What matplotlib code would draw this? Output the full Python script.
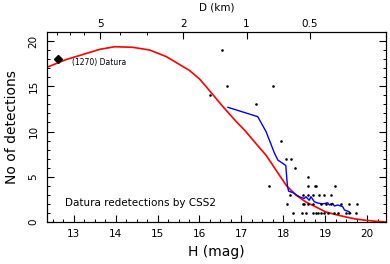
import numpy as np
import matplotlib
matplotlib.use("Agg")
import matplotlib.pyplot as plt

# model curve (red)
model_H = [12.36, 12.39, 12.83, 13.31, 13.62, 13.98, 14.41, 14.81, 15.21, 15.61, 15.76, 16.0,
           16.16, 16.56, 16.88, 17.11, 17.35, 17.59, 17.83, 18.07, 18.31, 18.54, 18.78,
           19.02, 19.26, 19.5, 19.73, 19.97, 20.21, 20.45]
model_N = [17.1, 17.16, 17.97, 18.64, 19.08, 19.37, 19.3, 19.0, 18.27, 17.16, 16.75, 15.8,
           14.95, 12.74, 11.08, 9.98, 8.65, 7.37, 5.71, 4.05, 2.95, 2.21, 1.66,
           1.1, 0.81, 0.55, 0.33, 0.19, 0.08, 0.0]

# running mean of detections (blue)
mean_H = [16.68, 17.39, 17.59, 17.79, 17.87, 18.06, 18.1, 18.13, 18.23, 18.38, 18.5, 18.54,
          18.62, 18.66, 18.74, 18.82, 18.94, 19.06, 19.1, 19.18, 19.22, 19.3, 19.42, 19.46,
          19.57, 19.61]
mean_N = [12.67, 11.64, 9.98, 7.6, 6.85, 6.25, 3.9, 3.4, 3.25, 2.8, 2.6, 2.8,
          2.4, 2.8, 2.25, 2.1, 2.0, 2.13, 1.88, 2.06, 1.77, 1.88, 1.69, 1.33,
          1.14, 0.96]

# individual detections (black dots)
det_H = [16.26, 16.53, 16.65, 17.36, 17.76, 17.65, 17.95, 18.07, 18.19, 18.29, 18.58,
         18.58, 18.76, 18.79, 19.24,
         18.15, 18.46, 18.58, 18.70, 18.86, 18.98, 19.14,
         18.08, 18.46, 18.50, 18.58, 18.70, 18.90, 19.02, 19.14, 19.38, 19.57, 19.77,
         18.23, 18.45, 18.54, 18.70, 18.78, 18.82, 18.90, 18.98, 19.06, 19.22, 19.30,
         19.50, 19.57, 19.73]
det_N = [14, 19, 15, 13, 15, 4, 9, 7, 7, 6, 5,
         4, 4, 4, 4,
         3, 3, 3, 3, 3, 3, 3,
         2, 2, 2, 2, 2, 2, 2, 2, 2, 2, 2,
         1, 1, 1, 1, 1, 1, 1, 1, 1, 1, 1,
         1, 1, 1]

datura_H = 12.63
datura_N = 18.0

N_ticks = [0, 5, 10, 15, 20]
D_major = [5, 2, 1, 0.5]
D_labels = ["5", "2", "1", "0.5"]
D_minor = [8, 7, 6, 4, 3]
albedo = 0.25


def h_of_d(d):
    return 5 * np.log10(1329 / np.sqrt(albedo) / d)


plt.rcParams['font.family'] = ['DejaVu Sans']

fig = plt.figure(figsize=(3.9, 2.64), dpi=100)
ax = fig.add_axes([0.1205, 0.159, 0.869, 0.72])

ax.plot(model_H, model_N, color='#ff0000', lw=1.2, zorder=2)
ax.plot(mean_H, mean_N, color='#0000ff', lw=1.0, zorder=3)
ax.scatter(det_H, det_N, s=3.5, color='black', zorder=4, linewidths=0)
ax.plot(datura_H, datura_N, marker='D', color='black', ms=4, zorder=5)
ax.text(12.95, 17.6, "(1270) Datura", fontsize=5.5, va='center', ha='left')
ax.text(12.8, 2.1, "Datura redetections by CSS2", fontsize=7.5, va='center', ha='left')

ax.set_xlim(12.36, 20.45)
ax.set_ylim(0, 21)
ax.set_xticks(range(13, 21))
ax.set_xticks(np.arange(12.5, 20.5, 0.25), minor=True)
ax.set_yticks(N_ticks, labels=[str(v) for v in N_ticks], rotation=90, va='center')
ax.set_yticks(range(0, 22), minor=True)
ax.tick_params(which='both', direction='in', right=True, labelsize=7.5)
ax.tick_params(which='major', length=5, width=0.8)
ax.tick_params(which='minor', length=2.5, width=0.7)
ax.tick_params(axis='x', pad=5)
ax.tick_params(axis='y', pad=6)
ax.set_xlabel("H (mag)", fontsize=10, labelpad=4)
ax.set_ylabel("No of detections", fontsize=10, labelpad=7)

top = ax.twiny()
top.set_xlim(ax.get_xlim())
top.set_xticks([h_of_d(d) for d in D_major])
top.set_xticklabels(D_labels)
top.set_xticks([h_of_d(d) for d in D_minor], minor=True)
top.tick_params(which='both', direction='in', labelsize=7.5, pad=2)
top.tick_params(which='major', length=5, width=0.8)
top.tick_params(which='minor', length=2.5, width=0.7)
top.set_xlabel("D (km)", fontsize=7.5, labelpad=6)

for a in (ax, top):
    for sp in a.spines.values():
        sp.set_linewidth(0.8)

fig.savefig("out.png", dpi=100)
